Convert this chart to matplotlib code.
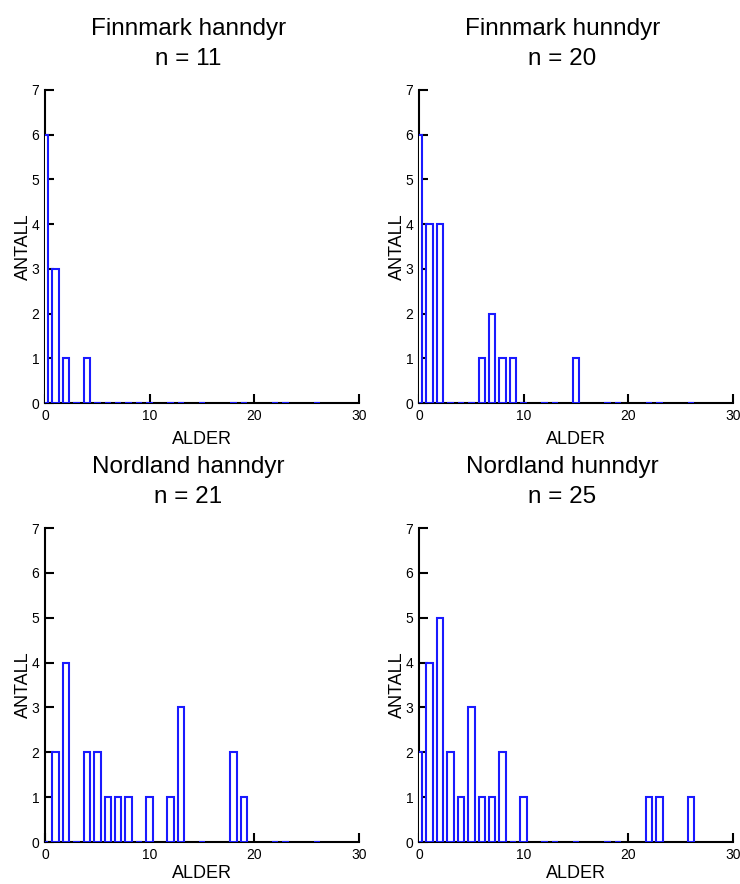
import matplotlib
matplotlib.use("Agg")
import matplotlib.pyplot as plt

plt.rcParams['font.family'] = ['Liberation Sans', 'DejaVu Sans']

# age classes present in the data set (union over all four groups)
ages = [0, 1, 2, 3, 4, 5, 6, 7, 8, 9, 10, 12, 13, 15, 18, 19, 22, 23, 26]

titles = ["Finnmark hanndyr", "Finnmark hunndyr", "Nordland hanndyr", "Nordland hunndyr"]

# counts per age class, same order as ages
finnmark_hann = [6, 3, 1, 0, 1, 0, 0, 0, 0, 0, 0, 0, 0, 0, 0, 0, 0, 0, 0]
finnmark_hunn = [6, 4, 4, 0, 0, 0, 1, 2, 1, 1, 0, 0, 0, 1, 0, 0, 0, 0, 0]
nordland_hann = [0, 2, 4, 0, 2, 2, 1, 1, 1, 0, 1, 1, 3, 0, 2, 1, 0, 0, 0]
nordland_hunn = [2, 4, 5, 2, 1, 3, 1, 1, 2, 0, 1, 0, 0, 0, 0, 0, 1, 1, 1]

counts = [finnmark_hann, finnmark_hunn, nordland_hann, nordland_hunn]

# axes boxes in figure fractions (left, bottom, width, height)
boxes = [
    [0.0608, 0.5441, 0.4243, 0.3541],
    [0.5662, 0.5441, 0.4243, 0.3541],
    [0.0608, 0.0475, 0.4243, 0.3552],
    [0.5662, 0.0475, 0.4243, 0.3552],
]

fig = plt.figure(figsize=(7.4, 8.84), dpi=100)

for i, (box, title, vals) in enumerate(zip(boxes, titles, counts)):
    ax = fig.add_axes(box)
    ax.bar(ages, vals, width=0.62, facecolor='white', edgecolor='#1a1aff',
           linewidth=1.5, zorder=3)
    ax.set_xlim(0, 30)
    ax.set_ylim(0, 7)
    ax.set_xticks([0, 10, 20, 30])
    ax.set_yticks(range(8))
    for side in ['top', 'right']:
        ax.spines[side].set_visible(False)
    for side in ['left', 'bottom']:
        ax.spines[side].set_linewidth(1.5)
    ax.tick_params(direction='in', length=6.5, width=1.5, labelsize=10, pad=4)
    # bottom row label pulled up a little so it stays inside the figure
    ax.set_xlabel("ALDER", fontsize=13, labelpad=6 if i < 2 else 2.5)
    ax.set_ylabel("ANTALL", fontsize=13, labelpad=0)
    ax.set_title(f"{title}\nn = {sum(vals)}", fontsize=17.5, x=0.457, pad=18,
                 linespacing=1.45)

plt.savefig("out.png", dpi=100)
